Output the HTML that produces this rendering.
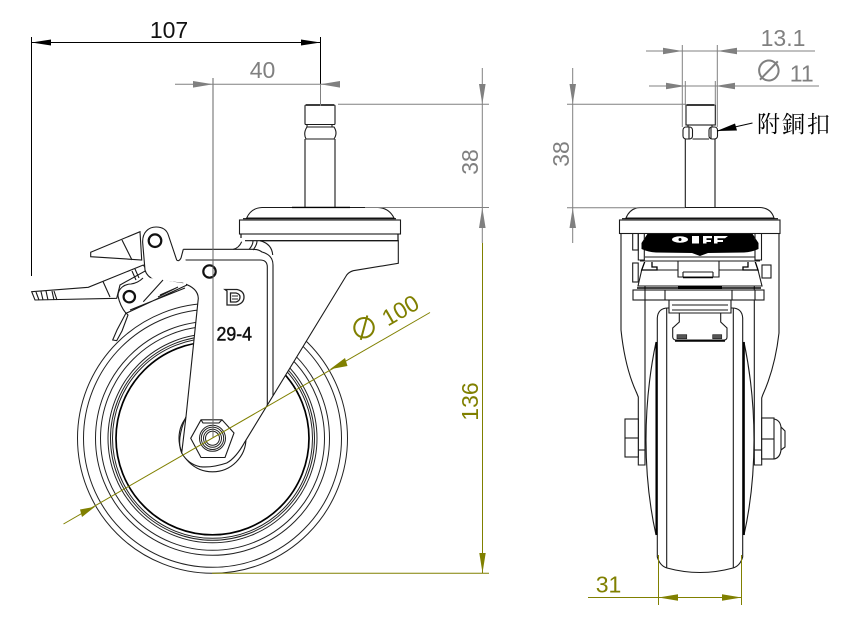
<!DOCTYPE html>
<html><head><meta charset="utf-8"><style>
html,body{margin:0;padding:0;background:#fff}
svg{display:block}
text{font-family:"Liberation Sans","Noto Sans CJK TC",sans-serif}
.p{fill:none;stroke:#1a1a1a;stroke-width:1.1}
.w{fill:#fff;stroke:#1a1a1a;stroke-width:1.1}
.t{fill:none;stroke:#000;stroke-width:2}
.g{stroke:#808080;stroke-width:1;fill:none}
.k{stroke:#000;stroke-width:1;fill:none}
.o{stroke:#808000;stroke-width:1;fill:none}
</style></head><body>
<svg width="860" height="620" viewBox="0 0 860 620" xmlns="http://www.w3.org/2000/svg">
<rect width="860" height="620" fill="#fff"/>

<!-- LEFT VIEW wheel -->
<g fill="none" stroke="#222" stroke-width="1">
<circle cx="212.5" cy="438.3" r="135"/><circle cx="212.5" cy="438.3" r="129"/><circle cx="212.5" cy="438.3" r="117"/><circle cx="212.5" cy="438.3" r="112"/><circle cx="212.5" cy="438.3" r="104.5"/><circle cx="212.5" cy="438.3" r="102"/><circle cx="212.5" cy="438.3" r="100"/>
<circle cx="212.5" cy="438.3" r="96.5" stroke="#000" stroke-width="1.7"/>
</g>

<!-- hub behind fork -->
<circle cx="212.5" cy="438.3" r="33.5" class="w"/>

<!-- fork plate -->
<path fill="#fff" d="M176.7 260L183.3 249.3H233.3Q239 248 241.7 241.7L260 240.7H398.3V263.3L353.3 270.7Q349 272 346.7 275L245 441.7Q236 458 226.7 463Q212 468 200 466.7Q188 464 181.7 453L186 416.7L198.3 298.3Q198 288 183.3 283.3L150 270Z"/>
<path class="p" d="M183.3 249.3H233.3Q239 248 241.7 241.7M260 240.7H398.3V263.3L353.3 270.7Q349 272 346.7 275L245 441.7Q236 458 226.7 463Q212 468 200 466.7Q188 464 181.7 453L186 416.7L198.3 298.3Q198 288 183.3 283.3"/>
<path class="p" d="M181.7 453Q176 440 186 416.7"/>
<path class="p" d="M185 260H260Q267.3 260 267.3 267V405"/>
<path class="p" d="M253 249.5Q258 249 262 252Q273 255 273 265V396"/>
<path class="p" d="M260 240.7Q272 244 272.7 255M253 250Q257 245 257 241M249 249.5Q253 245 253 241"/>
<path class="p" d="M233.3 249.3H253"/>

<!-- Lever lower -->
<path class="w" d="M31.7 291.7L88.3 287.3L143.3 265L147 270L120 285L116.7 298.3L35 300Z"/>
<path class="p" d="M36 292L39 300M41 291.5L43 300M46 291L48 300M52 291L54 300M54 291L57 300"/>
<path class="p" d="M103 281.5L110 297"/>
<path class="p" d="M132 271L136 280M135 269L139 278"/>
<!-- lever upper -->
<path class="w" d="M90.7 252.3L140 231.7L141.7 260L90.7 256.7Z"/>
<path class="p" d="M122 240L132 260"/>
<!-- lever body -->
<path fill="#fff" d="M142.7 243C142 232 149 227 156 227C164 227 167 231 168.3 235L176.7 260Q179 262 181 258L183.3 249.3L186 262L186 285Q172 283 155 280Q147 277 145 270Z"/>
<path class="p" d="M183.3 283.3L155 280Q147 277 145 270L142.7 243C142 232 149 227 156 227C164 227 167 231 168.3 235L176.7 260Q179 262 181 258L183.3 249.3"/>
<circle cx="155" cy="240.7" r="6.3" fill="#fff" stroke="#111" stroke-width="2.2"/>
<!-- lower pivot + plate -->
<path fill="#fff" d="M118 296C118 288 125 284 131 284Q138 283 143 278L151.7 278.3L183.3 283.3L190 289L130 313L126 313.3Z"/>
<path class="p" d="M118 296C118 288 125 284 131 284Q138 283 143 278M118 296Q120 306 126 313.3"/>
<circle cx="129.3" cy="296.7" r="5.7" fill="#fff" stroke="#111" stroke-width="2.2"/>
<path class="p" d="M143.3 301.7L163 280M158 297L178 287M160 295L176 288"/>
<path class="p" d="M126 313.3L187 285M130 310L185 288"/>
<path class="w" d="M126 313L117 330L112.7 340L116.7 340.7L122 331L128 315Z"/>

<!-- small hole -->
<circle cx="209.5" cy="271.5" r="6.2" fill="#fff" stroke="#111" stroke-width="2.2"/>

<!-- D logo -->
<path fill="none" stroke="#222" stroke-width="1.3" d="M225 289.5H237Q244 291 244 297Q244 303 237 305H227V291ZM230.5 293V302H236Q240 301 240 297Q240 294 236 293Z"/>
<path stroke="#222" stroke-width="1" d="M232 296H238M232 299H238"/>
<text x="216.5" y="340.5" font-size="19" textLength="35.5" lengthAdjust="spacingAndGlyphs" fill="#111" stroke="#111" stroke-width=".45">29-4</text>

<!-- Nut -->
<path class="w" d="M190.7 438.3L201 419.8H222L234 433L225 457.5H201Z"/>
<path class="p" d="M201 419.8L203 423H219L222 419.8"/>
<g fill="none" stroke="#222" stroke-width="1"><circle cx="212.5" cy="438.3" r="13"/><circle cx="212.5" cy="438.3" r="11.2"/><circle cx="212.5" cy="438.3" r="9"/><circle cx="212.5" cy="438.3" r="7"/></g>

<!-- Head / flange -->
<path class="w" d="M246.7 218Q251 208 262 207.5H378Q389 208 394 218Z"/>
<path d="M292 207.4H350" stroke="#000" stroke-width="1.4"/>
<rect x="239.5" y="220" width="161" height="14" class="w" stroke-width="1.5"/>
<path d="M243 218.7H396" stroke="#111" stroke-width="1.2"/>
<path d="M241 234.5V238M398 234V240.7M245 240.7H398" stroke="#111" stroke-width="1.2"/>
<!-- Stem -->
<path class="p" d="M305 139V207M335 139V207"/>
<rect x="305" y="105" width="30" height="19.5" rx="1" class="w"/>
<path d="M306 105H334" stroke="#222" stroke-width="1.8"/>
<path class="p" d="M307 124.5V127M332 124.5V127M307 127H333"/>
<path class="w" d="M307 127H334Q338 133 334 139H306Q303 133 307 127Z"/>

<!-- vertical center extension -->
<path d="M213 78V438" stroke="#666" stroke-width="1" fill="none"/>

<!-- DIM 107 -->
<path class="k" d="M31.5 37V276M320.5 37V84M31.5 42.5H320.5"/>
<path fill="#000" d="M31.5 42.5L51 39.5V45.5ZM320.5 42.5L301 39.5V45.5Z"/>
<text x="169" y="38" font-size="23" text-anchor="middle" fill="#111">107</text>
<!-- DIM 40 -->
<path class="g" d="M175 84.3H340M320.5 84V106"/>
<path fill="#808080" d="M213 84.3L193 81V87.6ZM320.5 84.3L340 81V87.6Z"/>
<text x="262.5" y="78" font-size="23" text-anchor="middle" fill="#808080">40</text>
<!-- DIM 38 left -->
<path class="g" d="M338 104.3H489M365 207.5H489M482.3 68V243"/>
<path fill="#808080" d="M482.3 104.3L479 84H485.6ZM482.3 207.5L479 228H485.6Z"/>
<text transform="translate(478 162) rotate(-90)" font-size="23" text-anchor="middle" fill="#808080">38</text>
<!-- DIM 136 -->
<path class="o" d="M482.5 243V573M212 573.2H489"/>
<path fill="#808000" d="M482.5 573L479.3 553H485.7Z"/>
<text transform="translate(478 401.5) rotate(-90)" font-size="23" text-anchor="middle" fill="#808000">136</text>
<!-- DIM phi100 -->
<path class="o" d="M63.5 524L430 312.5"/>
<path fill="#808000" d="M95 506.7L80 509.5L82 517ZM330 369.3L345 358L347.5 366Z"/>
<text transform="translate(389 326) rotate(-30)" font-size="23" text-anchor="middle" fill="#808000"><tspan font-size="29">∅</tspan> 100</text>

<!-- RIGHT VIEW -->
<!-- fork outer -->
<path class="p" d="M621 233V330Q625 368 636.7 393L638.3 397V465H645V233"/>
<path class="p" d="M779 233V333Q775 368 762.7 395L761.7 398V465H754.3V233"/>
<!-- axle -->
<rect x="625" y="419" width="13.3" height="38" class="w"/><path class="p" d="M625 438H638.3"/>
<path class="p" d="M638.3 450H645"/>
<rect x="761.7" y="418" width="12.3" height="41" class="w"/><path class="p" d="M761.7 439H774"/>
<path class="p" d="M774 419Q780 420 781 427V450Q780 458 774 459M781 427L785 431V447L781 450"/>
<path class="p" d="M754.3 450H761.7"/>
<!-- hub arcs -->
<path class="w" d="M656 342Q646 390 646 440Q646 490 656 535Z"/>
<path class="w" d="M744 342Q754 390 754 440Q754 490 744 535Z"/>
<!-- tire -->
<path class="w" d="M657.3 318Q658 308 668 308H732Q742 308 742.7 318V557Q740 566 733 568Q700 577 667 568Q660 566 657.3 557Z"/>
<path d="M656.5 342V535M743.8 342V535" stroke="#000" stroke-width="2"/>
<path class="p" d="M666.7 308V568M733.3 308V568"/>
<!-- clip plate -->
<path class="w" d="M679.3 313V322L672.7 328V337Q673 340 676 340H724Q727 340 727 337V328L720.7 322V313Z"/>
<path d="M675 341H725" stroke="#000" stroke-width="1.5"/>
<rect x="677" y="334.7" width="9.7" height="4" fill="#555" stroke="#222" stroke-width=".7"/>
<rect x="712.7" y="334.7" width="9" height="4" fill="#555" stroke="#222" stroke-width=".7"/>
<path class="w" d="M669 300H731V313H669Z"/>
<path class="p" d="M672 305H728M672 310H728"/>
<!-- body under head -->
<path class="w" d="M641.7 270H758L762 286H638Z"/>
<path d="M645 261H652V267H657V270H641.7ZM755 261H748V267H743V270H758Z" fill="#fff" stroke="#000" stroke-width="1.3"/>
<rect x="632.7" y="230" width="5.5" height="20" class="w"/>
<rect x="632.7" y="263" width="5.5" height="19" class="w"/>
<rect x="762" y="265" width="9" height="13" class="w"/>
<!-- platform -->
<rect x="633" y="290" width="131" height="10" class="w" stroke-width="1.8"/>
<path d="M637 288H761" stroke="#000" stroke-width="1.6"/>
<path d="M678 287.5H722" stroke="#000" stroke-width="3"/>
<path class="p" d="M645 290V300M755 290V300M665 290V300M732 290V300"/>
<!-- Upper deck -->
<path fill="#fff" d="M640 226H760V262H640Z"/>
<path class="p" d="M645 226.5H755M645 257H755M640 261H760"/>
<path fill="#000" d="M648 233H752L758.5 243V249Q752 252 744 252.5L708 253L700 256L692 253L656 252.5Q648 252 641.5 249V243Z"/>
<ellipse cx="680" cy="239.5" rx="8" ry="3.2" fill="#fff"/>
<circle cx="680" cy="239.5" r="1.5" fill="#000"/>
<path fill="#fff" d="M692 236H699V243.5H692ZM703 236H712V238.3H706.5V240H711V242H706.5V243.5H703ZM714 236H728L725 238.3H717.5V240H723V242H717.5V243.5H714Z"/>
<path fill="none" stroke="#1a1a1a" stroke-width="1.1" d="M638.3 226H644.3V240M638.3 226V260H644.3V250M761.5 226H755V240M761.5 226V260H755V250"/>
<path class="w" d="M678 261H719V277H678Z"/>
<path class="p" d="M683 272V277M713 272V277M683 272H713"/>
<path d="M683 277.5H713" stroke="#000" stroke-width="1.5"/>
<!-- Head / flange -->
<path class="w" d="M626 218Q630 208 640 207.5H760Q771 208 774 218Z"/>
<rect x="619.5" y="220" width="160.5" height="13.5" class="w" stroke-width="1.4"/>
<path d="M622 218.7H778" stroke="#111" stroke-width="1.2"/>
<!-- Stem -->
<path class="p" d="M685.3 139V207.5M715 139V207.5"/>
<rect x="686" y="105" width="29.3" height="20" class="w"/>
<path d="M687 105H714" stroke="#222" stroke-width="1.8"/>
<path class="p" d="M688 125V127M712 125V127"/>
<rect x="683" y="127" width="9.5" height="12" rx="3" class="w"/>
<rect x="709" y="127" width="8.5" height="12" rx="3" class="w"/>
<path class="p" d="M689 127V139M711 127V139M692.5 139H709"/>

<!-- DIM 13.1 -->
<path class="g" d="M682.3 45V127M717.3 45V127M646 51H815"/>
<path fill="#808080" d="M682.3 51L663 47.8V54.2ZM717.3 51L737 47.8V54.2Z"/>
<text x="783" y="46" font-size="23" text-anchor="middle" fill="#808080">13.1</text>
<!-- DIM phi 11 -->
<path class="g" d="M685.3 81V105M715.3 81V105M649 86H819"/>
<path fill="#808080" d="M685.3 86L666 82.8V89.2ZM715.3 86L735 82.8V89.2Z"/>
<text x="784" y="81.5" font-size="23" text-anchor="middle" fill="#808080"><tspan font-size="29">∅</tspan> 11</text>
<!-- DIM 38 right -->
<path class="g" d="M567 104.3H685M567 207.7H685M572.7 68V243"/>
<path fill="#808080" d="M572.7 104.3L569.5 84H576ZM572.7 207.7L569.5 228H576Z"/>
<text transform="translate(569 154) rotate(-90)" font-size="23" text-anchor="middle" fill="#808080">38</text>
<!-- leader -->
<path class="k" d="M717 131L752.5 123"/>
<path fill="#000" d="M716.7 131L735 123.5L737 130.5Z"/>
<text x="757" y="132" font-size="23" letter-spacing="2" fill="#000" style='font-family:"Liberation Serif","Noto Serif CJK SC","Noto Sans CJK TC",serif'>附銅扣</text>
<!-- DIM 31 -->
<path class="o" d="M658.5 555V605M741.5 555V605M588 597.5H741.5"/>
<path fill="#808000" d="M658.5 597.5L678 594.2V600.8ZM741.5 597.5L722 594.2V600.8Z"/>
<text x="608.5" y="592.5" font-size="23" text-anchor="middle" fill="#808000">31</text>
</svg>
</body></html>
